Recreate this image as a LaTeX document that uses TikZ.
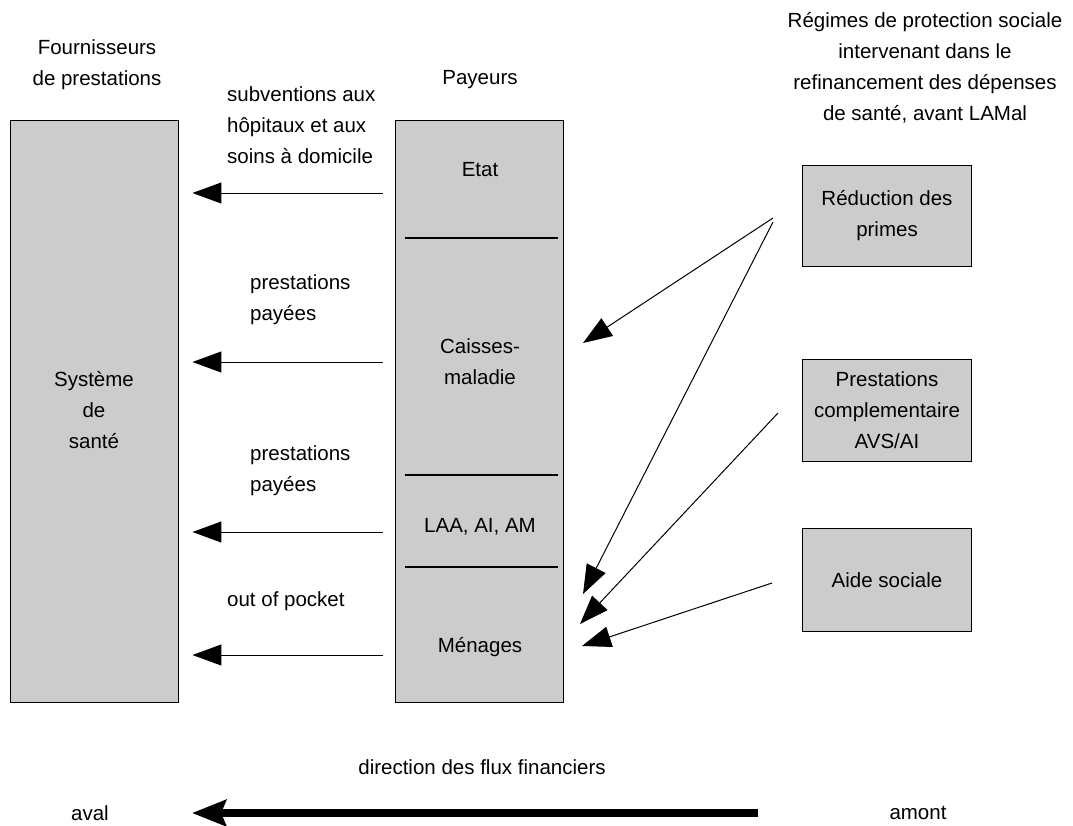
\documentclass[tikz,border=0pt]{standalone}
\usepackage{fontspec}
\setmainfont{Liberation Sans}
\usetikzlibrary{arrows.meta}
\tikzset{
  txt/.style={inner sep=0pt, font=\fontsize{20.5}{31}\selectfont},
  ctxt/.style={txt, align=center},
  ltxt/.style={txt, align=left, anchor=west},
  pbox/.style={draw=black, line width=0.9pt, fill=black!20, inner sep=0pt},
  flow/.style={line width=1pt, -{Triangle[length=29pt,width=21pt]}},
  big/.style={line width=8pt, -{Stealth[length=34pt,width=26pt,inset=5pt]}},
  divider/.style={line width=1.3pt}
}
\begin{document}
\begin{tikzpicture}[x=1pt,y=-1pt]
\useasboundingbox (0,0) rectangle (1073,825);
% headings
\node[ctxt] (hfour) at (97,65) {Fournisseurs\\de prestations};
\node[ctxt] (hpay) at (480,80) {Payeurs};
\node[ctxt] (hreg) at (925,68) {Régimes de protection sociale\\intervenant dans le\\refinancement des dépenses\\de santé, avant LAMal};
% main boxes
\node[pbox, minimum width=168pt, minimum height=582pt] (four) at (94,411) {};
\node[ctxt] (sys) at (94,410) {Système\\de\\santé};
\node[pbox, minimum width=168pt, minimum height=582pt] (pay) at (479,411) {};
\draw[divider] (405,238) -- (558,238);
\draw[divider] (405,475) -- (558,475);
\draw[divider] (405,567) -- (558,567);
\node[ctxt] (etat) at (480,170) {Etat};
\node[ctxt] (caisses) at (480,362) {Caisses-\\maladie};
\node[ctxt] (laa) at (480,527) {LAA, AI, AM};
\node[ctxt] (men) at (480,647) {Ménages};
% right boxes
\node[pbox, minimum width=169pt, minimum height=101pt] (red) at (887,216) {};
\node[ctxt] at (red.center) {Réduction des\\primes};
\node[pbox, minimum width=169pt, minimum height=102pt] (pc) at (887,410) {};
\node[ctxt] at (pc.center) {Prestations\\complementaire\\AVS/AI};
\node[pbox, minimum width=169pt, minimum height=103pt] (aide) at (887,580) {};
\node[ctxt] at (aide.center) {Aide sociale};
% horizontal flows
\coordinate (y1) at (0,193);
\coordinate (y2) at (0,362);
\coordinate (y3) at (0,532);
\coordinate (y4) at (0,655);
\draw[flow, shorten <=12pt, shorten >=14pt] (pay.west |- y1) -- (four.east |- y1);
\draw[flow, shorten <=12pt, shorten >=14pt] (pay.west |- y2) -- (four.east |- y2);
\draw[flow, shorten <=12pt, shorten >=14pt] (pay.west |- y3) -- (four.east |- y3);
\draw[flow, shorten <=12pt, shorten >=14pt] (pay.west |- y4) -- (four.east |- y4);
\node[ltxt] (l1) at (227,125) {subventions aux\\hôpitaux et aux\\soins à domicile};
\node[ltxt] (l2) at (250,300) {prestations\\payées};
\node[ltxt] (l3) at (250,471) {prestations\\payées};
\node[ltxt] (l4) at (227,601) {out of pocket};
% diagonal flows
\coordinate (s1) at (773,218);
\coordinate (s2) at (773,222);
\coordinate (s3) at (778,413);
\coordinate (s4) at (772,583);
\coordinate (t1) at (583,343);
\coordinate (t2) at (583,594);
\coordinate (t3) at (580,624);
\coordinate (t4) at (582,646);
\draw[flow] (s1) -- (t1);
\draw[flow] (s2) -- (t2);
\draw[flow] (s3) -- (t3);
\draw[flow] (s4) -- (t4);
% bottom
\node[ctxt] (dir) at (482,767) {direction des flux financiers};
\node[ctxt] (aval) at (90,813) {aval};
\node[ctxt] (amont) at (918,813) {amont};
\coordinate (bs) at (758,813);
\coordinate (be) at (192,813);
\draw[big] (bs) -- (be);
\end{tikzpicture}
\end{document}
